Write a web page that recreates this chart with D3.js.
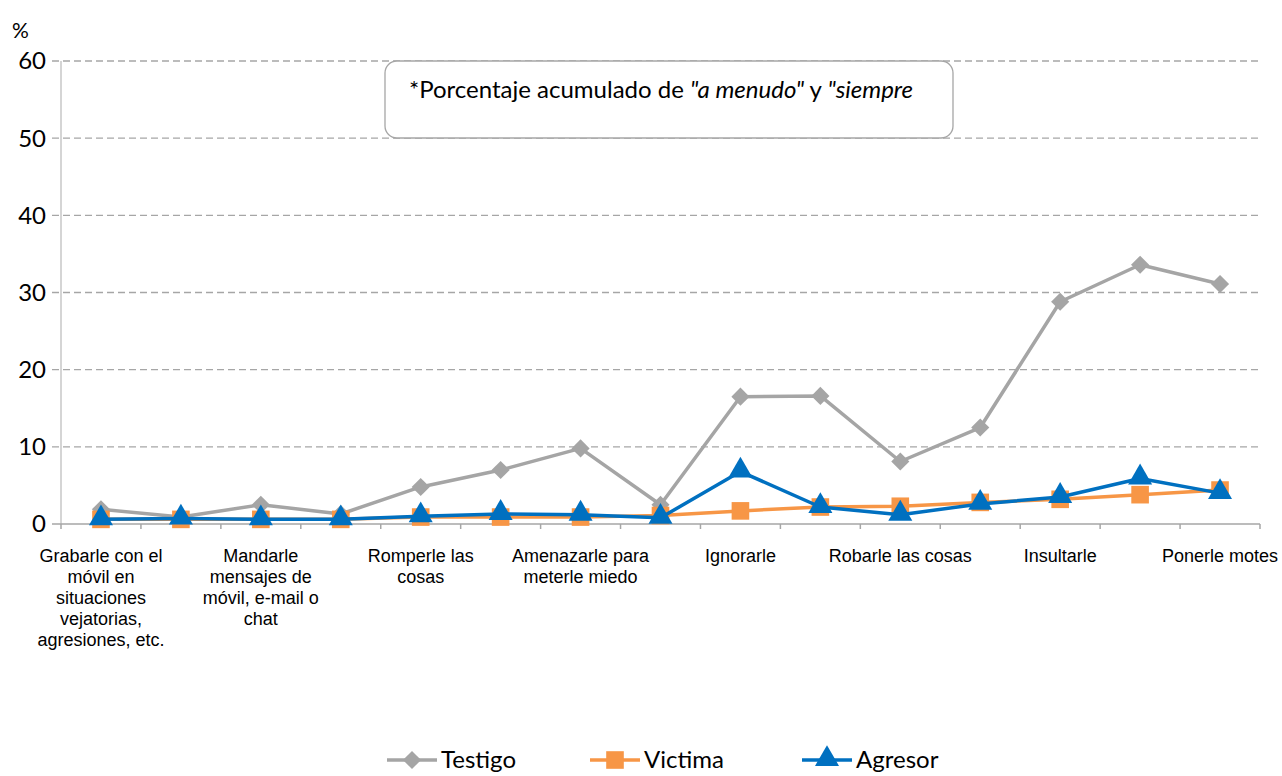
<!DOCTYPE html>
<html>
<head>
<meta charset="utf-8">
<script src="https://cdn.jsdelivr.net/npm/d3@7"></script>
<style>
  body { margin: 0; background: #fff; }
</style>
</head>
<body>
<div id="chart"></div>
<script>
// categorias (solo se ven las etiquetas alternas)
const categories = [
  "Grabarle con el móvil en situaciones vejatorias, agresiones, etc.", "",
  "Mandarle mensajes de móvil, e-mail o chat", "",
  "Romperle las cosas", "",
  "Amenazarle para meterle miedo", "",
  "Ignorarle", "",
  "Robarle las cosas", "",
  "Insultarle", "",
  "Ponerle motes"
];
const testigo = [1.9, 0.9, 2.5, 1.3, 4.8, 7.0, 9.8, 2.5, 16.5, 16.6, 8.1, 12.5, 28.8, 33.6, 31.1];
const victima = [0.6, 0.6, 0.6, 0.6, 0.9, 0.9, 0.9, 1.1, 1.7, 2.2, 2.3, 2.8, 3.2, 3.8, 4.4];
const agresor = [0.6, 0.7, 0.6, 0.6, 1.0, 1.3, 1.2, 0.8, 6.8, 2.2, 1.2, 2.6, 3.5, 5.9, 4.0];
const yTicks = [0, 10, 20, 30, 40, 50, 60];

const series = [
  { name: "Testigo", values: testigo, color: "#a5a5a5", symbol: "diamond" },
  { name: "Victima", values: victima, color: "#f79646", symbol: "square" },
  { name: "Agresor", values: agresor, color: "#0070c0", symbol: "triangle" }
];

const W = 1282, H = 776;
const svg = d3.select("#chart").append("svg").attr("width", W).attr("height", H);

const x = d3.scaleBand().domain(d3.range(categories.length)).range([61, 1260]);
const y = d3.scaleLinear().domain([0, 60]).range([524, 61]);
const cx = (i) => x(i) + x.bandwidth() / 2;

// rejilla
svg.append("g")
  .selectAll("line")
  .data(yTicks.filter((d) => d > 0))
  .enter()
  .append("line")
  .attr("x1", 52).attr("x2", 1260)
  .attr("y1", (d) => y(d)).attr("y2", (d) => y(d))
  .attr("stroke", "#a6a6a6")
  .attr("stroke-width", 1.3)
  .attr("stroke-dasharray", "7,4");

// eje Y
svg.append("line")
  .attr("x1", 61).attr("x2", 61).attr("y1", y(60)).attr("y2", y(0))
  .attr("stroke", "#bfbfbf").attr("stroke-width", 1.3);

svg.append("g")
  .selectAll("text")
  .data(yTicks)
  .enter()
  .append("text")
  .attr("x", 46)
  .attr("y", (d) => y(d))
  .attr("dy", "0.35em")
  .attr("text-anchor", "end")
  .attr("font-family", "Lato, 'Open Sans', sans-serif")
  .attr("font-size", "24px")
  .attr("fill", "#000")
  .text((d) => d);

svg.append("text")
  .attr("x", 12).attr("y", 38)
  .attr("font-family", "Lato, 'Open Sans', sans-serif")
  .attr("font-size", "21px")
  .text("%");

// eje X
svg.append("line")
  .attr("x1", 52).attr("x2", 1260).attr("y1", y(0)).attr("y2", y(0))
  .attr("stroke", "#a6a6a6").attr("stroke-width", 1.5);

svg.append("g")
  .selectAll("line")
  .data(d3.range(categories.length + 1))
  .enter()
  .append("line")
  .attr("x1", (i) => 61 + i * x.bandwidth())
  .attr("x2", (i) => 61 + i * x.bandwidth())
  .attr("y1", y(0)).attr("y2", y(0) + 5)
  .attr("stroke", "#a6a6a6").attr("stroke-width", 1.5);

// etiquetas de categoria con salto de linea
const labelG = svg.append("g")
  .attr("font-family", "'Liberation Sans', Arial, sans-serif")
  .attr("font-size", "18px")
  .attr("fill", "#000");

categories.forEach((c, i) => {
  if (!c) return;
  const t = labelG.append("text")
    .attr("x", cx(i))
    .attr("y", 562)
    .attr("text-anchor", "middle");
  const words = c.split(" ");
  let line = [];
  let tspan = t.append("tspan").attr("x", cx(i)).attr("dy", 0);
  words.forEach((w) => {
    line.push(w);
    tspan.text(line.join(" "));
    if (tspan.node().getComputedTextLength() > 148 && line.length > 1) {
      line.pop();
      tspan.text(line.join(" "));
      line = [w];
      tspan = t.append("tspan").attr("x", cx(i)).attr("dy", 21).text(w);
    }
  });
});

// simbolos
const symbolPath = {
  diamond: d3.symbol().type(d3.symbolDiamond2).size(210)(),
  square: d3.symbol().type(d3.symbolSquare).size(310)(),
  triangle: d3.symbol().type(d3.symbolTriangle).size(250)()
};

const line = d3.line().x((d, i) => cx(i)).y((d) => y(d));

series.forEach((s) => {
  const g = svg.append("g");
  g.append("path")
    .datum(s.values)
    .attr("d", line)
    .attr("fill", "none")
    .attr("stroke", s.color)
    .attr("stroke-width", 3.5)
    .attr("stroke-linejoin", "round");
  g.selectAll("path.marker")
    .data(s.values)
    .enter()
    .append("path")
    .attr("class", "marker")
    .attr("d", symbolPath[s.symbol])
    .attr("transform", (d, i) => `translate(${cx(i)},${y(d) + (s.symbol === "triangle" ? -1 : 0)})`)
    .attr("fill", s.color);
});

// nota
svg.append("rect")
  .attr("x", 385).attr("y", 61).attr("width", 568).attr("height", 77)
  .attr("rx", 12).attr("ry", 12)
  .attr("fill", "#fff")
  .attr("stroke", "#a6a6a6").attr("stroke-width", 1.3);

const note = svg.append("text")
  .attr("x", 409).attr("y", 98)
  .attr("font-family", "Lato, 'Open Sans', sans-serif")
  .attr("font-size", "24px")
  .attr("fill", "#000");
note.append("tspan").text("*Porcentaje acumulado de ");
note.append("tspan").attr("font-style", "italic").text("\"a menudo\"");
note.append("tspan").text(" y ");
note.append("tspan").attr("font-style", "italic").text("\"siempre");

// leyenda
const legendX = [387, 590, 802];
const legend = svg.append("g");
series.forEach((s, i) => {
  const g = legend.append("g").attr("transform", `translate(${legendX[i]}, 760)`);
  g.append("line")
    .attr("x1", 0).attr("x2", 50).attr("y1", 0).attr("y2", 0)
    .attr("stroke", s.color).attr("stroke-width", 3.5);
  g.append("path")
    .attr("d", symbolPath[s.symbol])
    .attr("transform", `translate(25,${s.symbol === "triangle" ? -1 : 0})`)
    .attr("fill", s.color);
  g.append("text")
    .attr("x", 54).attr("y", 0).attr("dy", "0.35em")
    .attr("font-family", "Lato, 'Open Sans', sans-serif")
    .attr("font-size", "24px")
    .attr("fill", "#000")
    .text(s.name);
});
</script>
</body>
</html>
